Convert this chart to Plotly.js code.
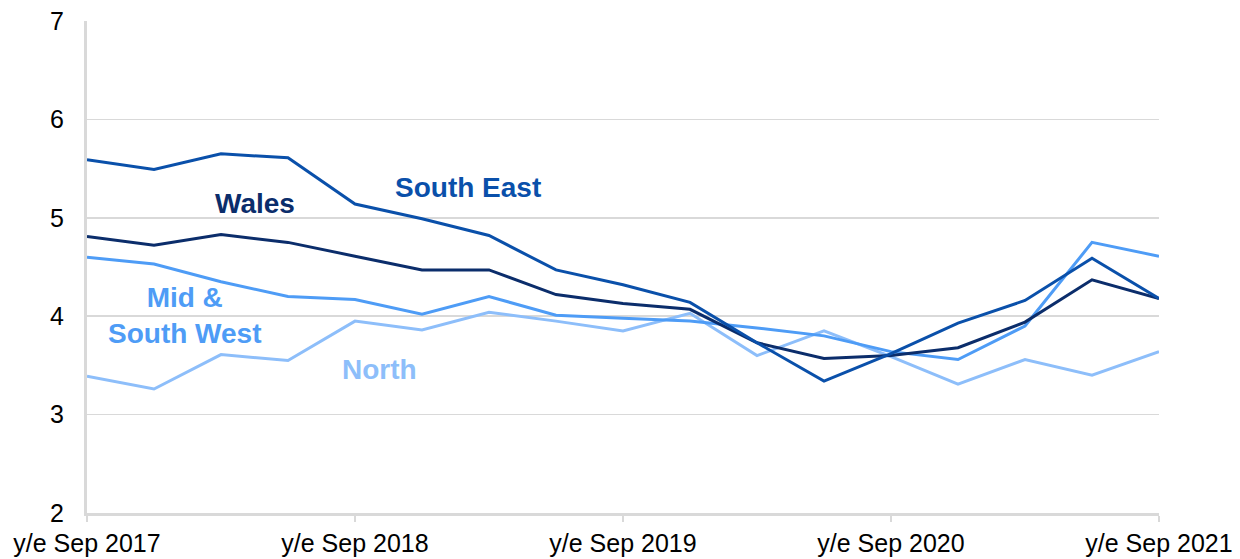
<!DOCTYPE html>
<html>
<head>
<meta charset="utf-8">
<script src="https://cdn.plot.ly/plotly-3.0.1.min.js"></script>
<style>html,body{margin:0;padding:0;background:#fff;}#chart{width:1240px;height:559px;}</style>
</head>
<body>
<div id="chart"></div>
<script>
// quarterly points, y/e Sep 2017 .. y/e Sep 2021
const periods = [0,1,2,3,4,5,6,7,8,9,10,11,12,13,14,15,16];
const tickPositions = [0,4,8,12,16];
const tickLabels = ["y/e Sep 2017","y/e Sep 2018","y/e Sep 2019","y/e Sep 2020","y/e Sep 2021"];

const southEast = [5.59,5.49,5.65,5.61,5.14,4.99,4.82,4.47,4.32,4.14,3.73,3.34,3.62,3.93,4.16,4.59,4.18];
const wales     = [4.81,4.72,4.83,4.75,4.61,4.47,4.47,4.22,4.13,4.07,3.73,3.57,3.60,3.68,3.94,4.37,4.18];
const midSouthWest = [4.60,4.53,4.35,4.20,4.17,4.02,4.20,4.01,3.98,3.95,3.88,3.80,3.64,3.56,3.90,4.75,4.61];
const north     = [3.39,3.26,3.61,3.55,3.95,3.86,4.04,3.95,3.85,4.03,3.60,3.85,3.59,3.31,3.56,3.40,3.64];

const seriesNames = ["South East","Wales","Mid & South West","North"];
const seriesColors = ["#0A50AA","#0B2D6B","#4E9CF6","#8DBEFA"];

const allSeries = [southEast, wales, midSouthWest, north];
const data = allSeries.map((vals,i)=>({
  x: periods, y: vals, type:'scatter', mode:'lines', name: seriesNames[i],
  line:{color: seriesColors[i], width:3}, hoverinfo:'skip'
}));
// draw order: North at back
data.reverse();

const labelFont = (c)=>({family:'"Liberation Sans", Arial, sans-serif', size:28, color:c, weight:'bold'});
const annotations = [
  {x:5.69, y:5.31, text:"<b>South East</b>", color:seriesColors[0]},
  {x:2.5, y:5.15, text:"<b>Wales</b>", color:seriesColors[1]},
  {x:1.46, y:4.01, text:"<b>Mid &amp;<br>South West</b>", color:seriesColors[2]},
  {x:4.37, y:3.46, text:"<b>North</b>", color:seriesColors[3]}
].map(a=>({x:a.x,y:a.y,xref:'x',yref:'y',text:a.text,showarrow:false,font:labelFont(a.color),xanchor:'center',yanchor:'middle'}));

const layout = {
  width:1240, height:559,
  margin:{l:87, r:81, t:21, b:46},
  paper_bgcolor:'#ffffff', plot_bgcolor:'#ffffff',
  showlegend:false,
  font:{family:'"Liberation Sans", Arial, sans-serif', size:25, color:'#000'},
  xaxis:{
    range:[0,16], tickvals:tickPositions, ticktext:tickLabels,
    showgrid:false, zeroline:false,
    showline:true, linecolor:'#D9D9D9', linewidth:3,
    ticks:'outside', ticklen:6, tickwidth:2, tickcolor:'#D9D9D9',
    tickfont:{size:25, color:'#000'}, fixedrange:true
  },
  yaxis:{
    range:[2,7], dtick:1, tick0:2,
    showgrid:true, gridcolor:'#D9D9D9', gridwidth:1.5,
    zeroline:false, showline:true, linecolor:'#D9D9D9', linewidth:3,
    ticks:'', ticklabelstandoff:15,
    tickfont:{size:25, color:'#000'}, fixedrange:true
  },
  annotations: annotations
};

Plotly.newPlot('chart', data, layout, {displayModeBar:false, staticPlot:true});
</script>
</body>
</html>
